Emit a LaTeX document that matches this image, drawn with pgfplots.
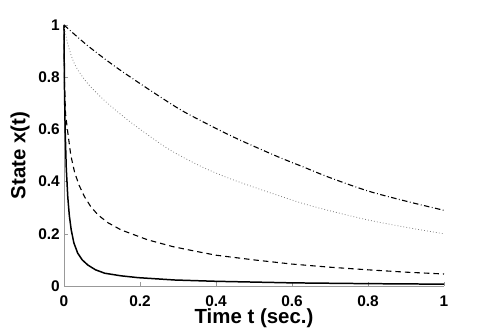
\documentclass[border=0pt]{standalone}
\usepackage{pgfplots}
\pgfplotsset{compat=1.18}
\usepackage{fontspec}
\setmainfont{Liberation Sans}
\tikzset{xt/.style={anchor=north, inner sep=0pt, yshift=-10bp, font=\fontsize{15.5}{16}\selectfont\bfseries},
         yt/.style={anchor=east, inner sep=0pt, xshift=-4bp, font=\fontsize{15.5}{16}\selectfont\bfseries}}
\begin{document}
\begin{tikzpicture}
\path[use as bounding box] (-64bp,-46bp) rectangle (427bp,286bp);
\begin{axis}[
  at={(0,0)}, anchor=south west,
  scale only axis, width=380bp, height=261bp,
  xmin=0, xmax=1, ymin=0, ymax=1,
  axis lines*=left,
  axis line style={draw=gray!80, line width=0.6pt},
  tick style={draw=gray!80, line width=0.6pt},
  tick align=inside,
  major tick length=4bp,
  xtick={0,0.2,0.4,0.6,0.8,1},
  ytick={0,0.2,0.4,0.6,0.8,1},
  xticklabels={},
  yticklabels={},
  label style={font=\fontsize{20.5}{21}\selectfont\bfseries, inner sep=0pt},
  xlabel={Time t (sec.)},
  ylabel={State x(t)},
  xlabel style={at={(axis description cs:0.5,0)}, anchor=center, yshift=-32bp},
  ylabel style={at={(axis description cs:0,0.5)}, anchor=center, rotate=0, yshift=44bp},
  clip=false,
]
\addplot[black, line width=1.5pt, line join=round] coordinates {
(0,1) (0.001,0.78) (0.003,0.6) (0.006,0.45) (0.01,0.34) (0.014,0.27) (0.019,0.215) (0.026,0.165) (0.036,0.126) (0.048,0.1) (0.063,0.08) (0.083,0.062) (0.107,0.049) (0.15,0.039) (0.195,0.032) (0.291,0.023) (0.4,0.018) (0.5,0.015) (0.6,0.012) (0.7,0.0105) (0.8,0.009) (0.9,0.008) (1,0.007)
};
\addplot[black, line width=1.1pt, dash pattern=on 5.5bp off 4bp, line join=round] coordinates {
(0,1) (0.001,0.8) (0.004,0.66) (0.01,0.588) (0.018,0.5) (0.028,0.435) (0.04,0.385) (0.054,0.342) (0.07,0.305) (0.089,0.273) (0.115,0.243) (0.15,0.215) (0.22,0.177) (0.286,0.151) (0.35,0.132) (0.4,0.118) (0.5,0.1) (0.6,0.084) (0.7,0.072) (0.8,0.062) (0.9,0.053) (1,0.046)
};
\addplot[gray, line width=0.8pt, dash pattern=on 0.8bp off 2.2bp, smooth] coordinates {
(0,1) (0.01,0.927) (0.028,0.85) (0.06,0.78) (0.107,0.71) (0.16,0.645) (0.212,0.588) (0.278,0.522) (0.358,0.46) (0.43,0.415) (0.507,0.375) (0.62,0.32) (0.7,0.288) (0.8,0.253) (0.9,0.225) (1,0.2)
};
\addplot[black, line width=1.1pt, dash pattern=on 5.5bp off 2.5bp on 0.8bp off 2.5bp, smooth] coordinates {
(0,1) (0.063,0.92) (0.15,0.825) (0.29,0.69) (0.358,0.635) (0.45,0.568) (0.56,0.497) (0.63,0.456) (0.7,0.415) (0.8,0.364) (0.9,0.325) (1,0.29)
};
\node[xt] at (axis cs:0,0) {0};
\node[xt] at (axis cs:0.2,0) {0.2};
\node[xt] at (axis cs:0.4,0) {0.4};
\node[xt] at (axis cs:0.6,0) {0.6};
\node[xt] at (axis cs:0.8,0) {0.8};
\node[xt] at (axis cs:1,0) {1};
\node[yt] at (axis cs:0,0) {0};
\node[yt] at (axis cs:0,0.2) {0.2};
\node[yt] at (axis cs:0,0.4) {0.4};
\node[yt] at (axis cs:0,0.6) {0.6};
\node[yt] at (axis cs:0,0.8) {0.8};
\node[yt] at (axis cs:0,1) {1};
\end{axis}
\end{tikzpicture}
\end{document}
